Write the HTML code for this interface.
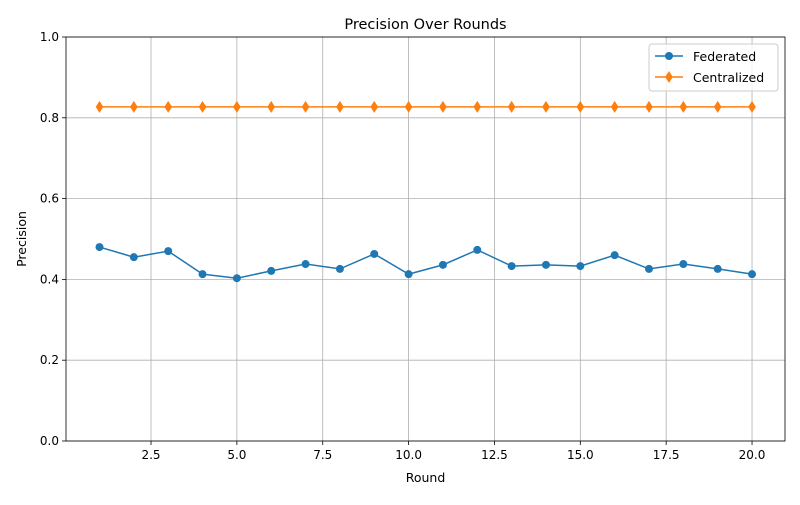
<!DOCTYPE html>
<html><head><meta charset="utf-8"><style>
body{margin:0;background:#fff;font-family:"Liberation Sans","DejaVu Sans",sans-serif;}
svg text{font-family:"DejaVu Sans","Liberation Sans",sans-serif;}
</style></head><body>
<svg id="chart" width="800" height="500" xmlns="http://www.w3.org/2000/svg"></svg>
<script>
const rounds=[1,2,3,4,5,6,7,8,9,10,11,12,13,14,15,16,17,18,19,20];
const federated=[0.480,0.455,0.470,0.413,0.403,0.421,0.438,0.426,0.463,0.413,0.436,0.473,0.433,0.436,0.433,0.460,0.426,0.438,0.426,0.413];
const centralized=[0.827,0.827,0.827,0.827,0.827,0.827,0.827,0.827,0.827,0.827,0.827,0.827,0.827,0.827,0.827,0.827,0.827,0.827,0.827,0.827];
const xTicks=[2.5,5.0,7.5,10.0,12.5,15.0,17.5,20.0];
const yTicks=[0.0,0.2,0.4,0.6,0.8,1.0];

const L=66,R=785,T=37,B=441;
const xMin=0.0245,xMax=20.96;
const xs=v=>L+(v-xMin)/(xMax-xMin)*(R-L);
const ys=v=>B-(v-0)/(1-0)*(B-T);
const svg=document.getElementById('chart');
const NS='http://www.w3.org/2000/svg';
function mk(tag,attrs,parent){const e=document.createElementNS(NS,tag);for(const k in attrs)e.setAttribute(k,attrs[k]);(parent||svg).appendChild(e);return e;}

const grid=mk('g',{});


xTicks.forEach(t=>{const x=xs(t);
 mk('line',{x1:x,x2:x,y1:T,y2:B,stroke:'#b0b0b0','stroke-width':0.8},grid);
 mk('line',{x1:x,x2:x,y1:B,y2:B+4,stroke:'#000','stroke-width':0.8});
 const tx=mk('text',{x:x,y:B+18,'font-size':12,'text-anchor':'middle'});tx.textContent=t.toFixed(1);
 
 
});
yTicks.forEach(t=>{const y=ys(t);
 mk('line',{x1:L,x2:R,y1:y,y2:y,stroke:'#b0b0b0','stroke-width':0.8},grid);
 mk('line',{x1:L-4,x2:L,y1:y,y2:y,stroke:'#000','stroke-width':0.8});
 const tx=mk('text',{x:L-7,y:y+4,'font-size':12,'text-anchor':'end'});tx.textContent=t.toFixed(1);
 
 
});

function series(vals,color,marker,name){
 const g=mk('g',{});
 
 
 mk('polyline',{points:vals.map((v,i)=>xs(rounds[i])+','+ys(v)).join(' '),fill:'none',stroke:color,'stroke-width':1.5},g);
 vals.forEach((v,i)=>{const x=xs(rounds[i]),y=ys(v);let m;
  if(marker==='o')m=mk('circle',{cx:x,cy:y,r:4,fill:color},g);
  else m=mk('polygon',{points:`${x},${y-6} ${x+3.8},${y} ${x},${y+6} ${x-3.8},${y}`,fill:color},g);
  
  
 });
}
series(federated,'#1f77b4','o','federated-series');
series(centralized,'#ff7f0e','d','centralized-series');

const frame=mk('rect',{x:L,y:T,width:R-L,height:B-T,fill:'none',stroke:'#000','stroke-width':0.8});



const title=mk('text',{x:(L+R)/2,y:29,'font-size':14.5,'text-anchor':'middle'});title.textContent='Precision Over Rounds';


const xl=mk('text',{x:(L+R)/2,y:482,'font-size':12.5,'text-anchor':'middle'});xl.textContent='Round';


const yl=mk('text',{x:0,y:0,'font-size':12.5,'text-anchor':'middle',transform:`translate(26,${(T+B)/2}) rotate(-90)`});yl.textContent='Precision';



const lg=mk('g',{});


mk('rect',{x:649,y:44,width:129,height:47,rx:3,fill:'#fff','fill-opacity':0.8,stroke:'#ccc'},lg);
mk('line',{x1:655,x2:683,y1:56,y2:56,stroke:'#1f77b4','stroke-width':1.5},lg);
mk('circle',{cx:669,cy:56,r:4,fill:'#1f77b4'},lg);
const t1=mk('text',{x:693,y:61,'font-size':12.5},lg);t1.textContent='Federated';


mk('line',{x1:655,x2:683,y1:77,y2:77,stroke:'#ff7f0e','stroke-width':1.5},lg);
mk('polygon',{points:'669,71 672.8,77 669,83 665.2,77',fill:'#ff7f0e'},lg);
const t2=mk('text',{x:693,y:82,'font-size':12.5},lg);t2.textContent='Centralized';


</script>
</body></html>
